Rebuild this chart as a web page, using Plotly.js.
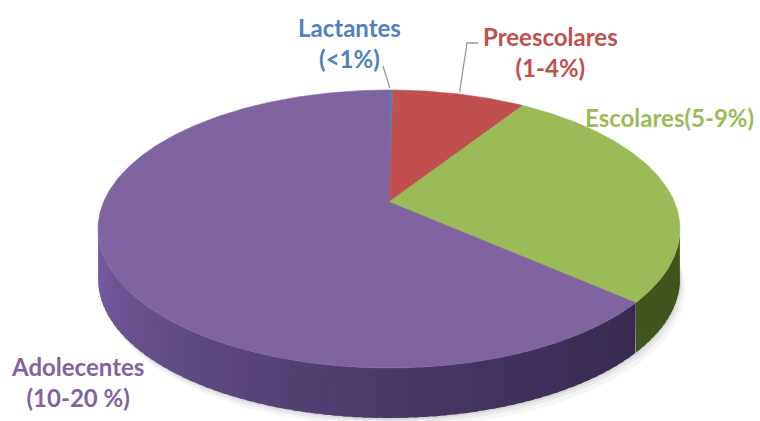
<!DOCTYPE html>
<html>
<head>
<meta charset="utf-8">
<script src="https://cdn.plot.ly/plotly-3.0.1.min.js"></script>
<style>html,body{margin:0;padding:0;background:#fff;}#chart{width:760px;height:421px;}</style>
</head>
<body>
<div id="chart"></div>
<script>
// ---- data ----
const categories = ['Lactantes', 'Preescolares', 'Escolares', 'Adolecentes'];
const rangeLabels = ['(&lt;1%)', '(1-4%)', '(5-9%)', '(10-20 %)'];
const values = [0.2, 7.4, 26.3, 66.1];
const topColors = ['#4f81bd', '#c0504d', '#9bbb59', '#8064a2'];
const textColors = ['#4f81bd', '#c0504d', '#9bbb59', '#8064a2'];

// ---- geometry (pixel space) ----
const W = 760, H = 421;
const CX = 389, CY = 229, A = 291, B = 139, APEXY = 202, DEPTH = 50;
const rad = d => d * Math.PI / 180;
const px = t => CX + A * Math.sin(rad(t));
const py = t => CY - B * Math.cos(rad(t));

const total = values.reduce((s, v) => s + v, 0);
const slices = [];
let acc = 0;
values.forEach((v, i) => {
  const t0 = acc / total * 360;
  acc += v;
  const t1 = acc / total * 360;
  slices.push({t0, t1, i});
});

function mix(c1, c2, f) {
  return 'rgb(' + c1.map((c, k) => Math.round(c + (c2[k] - c) * f)).join(',') + ')';
}
const sideDark = [
  [[40, 60, 100], [70, 100, 150]],
  [[90, 40, 40], [120, 50, 50]],
  [[66, 84, 30], [84, 104, 40]],
  [[50, 38, 72], [120, 94, 164]]
];

const traces = [];

// soft shadow under the disc
[[9, 0.035], [5, 0.05], [2, 0.07]].forEach(([off, op]) => {
  const xs = [], ys = [];
  for (let t = 0; t <= 360; t += 2) { xs.push(px(t) + off * 0.6); ys.push(py(t) + DEPTH + off); }
  traces.push({type: 'scatter', mode: 'lines', x: xs, y: ys, fill: 'toself',
    fillcolor: 'rgba(0,0,0,' + op + ')', line: {width: 0}, hoverinfo: 'skip', showlegend: false});
});

// sides (front half: 90..270)
slices.forEach(s => {
  const a0 = Math.max(s.t0, 90), a1 = Math.min(s.t1, 270);
  if (a1 <= a0) return;
  const step = 2;
  for (let a = a0; a < a1; a += step) {
    const b = Math.min(a + step + 1.2, a1);
    const xs = [], ys = [];
    for (let t = a; t <= b + 1e-9; t += 0.5) { xs.push(px(t)); ys.push(py(t)); }
    xs.push(px(b)); ys.push(py(b));
    xs.push(px(b)); ys.push(py(b) + DEPTH);
    for (let t = b; t >= a - 1e-9; t -= 0.5) { xs.push(px(t)); ys.push(py(t) + DEPTH); }
    const f = ((a + Math.min(a + step, a1)) / 2 - 90) / 180;
    const col = mix(sideDark[s.i][0], sideDark[s.i][1], Math.pow(f, 1.5));
    traces.push({type: 'scatter', mode: 'lines', x: xs, y: ys, fill: 'toself',
      fillcolor: col, line: {width: 0}, hoverinfo: 'skip', showlegend: false});
  }
});

// top faces
slices.forEach(s => {
  const xs = [CX], ys = [APEXY];
  for (let t = s.t0; t <= s.t1; t += 0.5) { xs.push(px(t)); ys.push(py(t)); }
  xs.push(px(s.t1)); ys.push(py(s.t1));
  xs.push(CX); ys.push(APEXY);
  traces.push({type: 'scatter', mode: 'lines', x: xs, y: ys, fill: 'toself',
    fillcolor: topColors[s.i], line: {color: topColors[s.i], width: 0.6},
    name: categories[s.i], hoverinfo: 'name', showlegend: false});
});

// labels
const font = {family: 'Lato, "Open Sans", sans-serif', size: 24};
const labelPos = [
  {x: 349, y: 43, text: categories[0] + '<br>' + rangeLabels[0]},
  {x: 550, y: 52, text: categories[1] + '<br>' + rangeLabels[1]},
  {x: 669, y: 117, text: categories[2] + rangeLabels[2]},
  {x: 77, y: 382, text: categories[3] + '<br>' + rangeLabels[3]}
];
const annotations = labelPos.map((p, i) => ({
  x: p.x, y: p.y, xref: 'x', yref: 'y', text: '<b>' + p.text + '</b>', showarrow: false,
  align: 'center', xanchor: 'center', yanchor: 'middle',
  font: Object.assign({}, font, {color: textColors[i]})
}));

// leader lines from slice mid-angles
const mid0 = (slices[0].t0 + slices[0].t1) / 2;
const mid1 = (slices[1].t0 + slices[1].t1) / 2;
const shapes = [
  {type: 'line', xref: 'x', yref: 'y', x0: px(mid0) - 1, y0: py(mid0) - 2, x1: 383, y1: 66,
    line: {color: '#9a9a9a', width: 1.3}},
  {type: 'path', xref: 'x', yref: 'y',
    path: 'M' + px(mid1) + ',' + (py(mid1) - 2) + ' L467,43 L478,43',
    line: {color: '#9a9a9a', width: 1.3}}
];

const layout = {
  width: W, height: H, autosize: false,
  margin: {l: 0, r: 0, t: 0, b: 0},
  paper_bgcolor: '#ffffff', plot_bgcolor: '#ffffff',
  xaxis: {range: [0, W], visible: false, fixedrange: true},
  yaxis: {range: [H, 0], visible: false, fixedrange: true},
  annotations, shapes, showlegend: false
};
Plotly.newPlot('chart', traces, layout, {displayModeBar: false, staticPlot: true});
</script>
</body>
</html>
